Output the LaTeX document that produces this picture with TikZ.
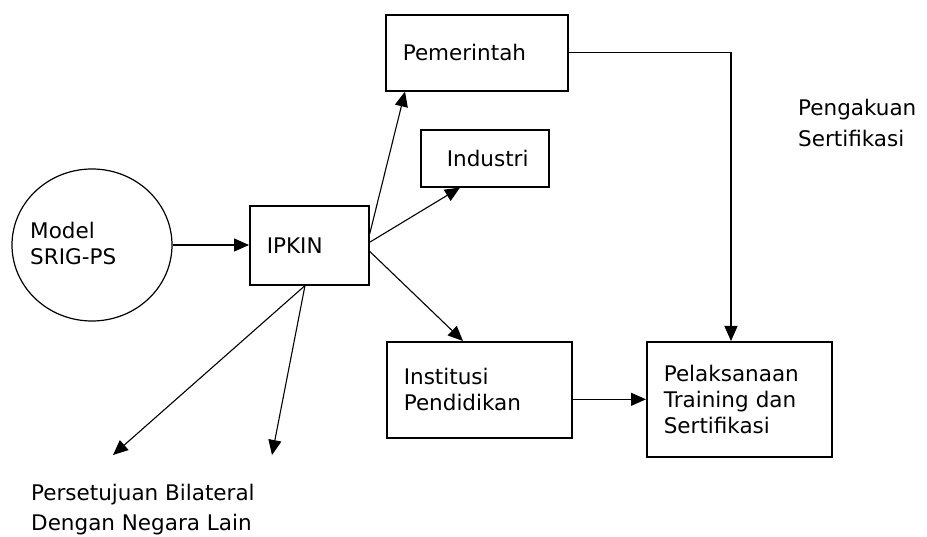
\documentclass[tikz,border=0pt]{standalone}
\usepackage{fontspec}
\setmainfont{DejaVu Sans}
\usepackage{tikz}
\usetikzlibrary{
  arrows.meta,
  shapes,
  shapes.geometric,
  positioning,
  calc
}
\tikzset{
  sgnode/.style={
    draw, line width=1.6pt, align=left, inner xsep=17pt, inner ysep=0pt,
    anchor=north west, font=\fontsize{21.5}{26}\selectfont
  },
  sgbox/.style={sgnode},
  sgoval/.style={draw, ellipse, line width=1.2pt, inner sep=0pt},
  sgtext/.style={font=\fontsize{21.5}{26}\selectfont, align=left, anchor=west, inner sep=0pt},
  sgflow/.style={-{Triangle[length=15pt, width=13pt]}, line width=1.1pt}
}
\begin{document}
\begin{tikzpicture}[x=1pt, y=1pt]
  \useasboundingbox (0,0) rectangle (927,-537);
  \node[sgoval, minimum width=160pt, minimum height=152pt] (model) at (92,-245) {};
  \node[sgtext] (modeltxt) at (30,-243) {Model\\SRIG-PS};
  \node[sgbox, text width=85pt, minimum height=79pt] (ipkin) at (249,-205) {IPKIN};
  \node[sgbox, text width=148pt, minimum height=76pt] (pemerintah) at (385,-14) {Pemerintah\\[14pt]};
  \node[sgbox, inner xsep=26pt, text width=76pt, minimum height=57pt] (industri) at (420,-129) {Industri};
  \node[sgbox, text width=151pt, minimum height=96pt] (institusi) at (386,-341) {Institusi\\Pendidikan};
  \node[sgbox, text width=151pt, minimum height=115pt] (pelaksanaan) at (646,-341) {Pelaksanaan\\Training dan\\Sertifikasi};
  \node[sgtext] (pengakuan) at (798,-123) {Pengakuan\\[5pt]Sertifikasi};
  \node[sgtext] (persetujuan) at (31,-510) {Persetujuan Bilateral\\[4pt]Dengan Negara Lain};
  \coordinate (bilA) at (113,-455);
  \coordinate (bilB) at (272,-455);
  \draw[sgflow] (model.east) -- (model.east -| ipkin.west);
  \draw[sgflow] ([yshift=11pt]ipkin.east) -- ([xshift=20pt]pemerintah.south west);
  \draw[sgflow] ([yshift=3pt]ipkin.east) -- ([xshift=40pt]industri.south west);
  \draw[sgflow] ([yshift=-6pt]ipkin.east) -- ([xshift=77pt]institusi.north west);
  \draw[sgflow] ([xshift=56pt]ipkin.south west) -- (bilA);
  \draw[sgflow] ([xshift=56pt]ipkin.south west) -- (bilB);
  \draw[sgflow] (pemerintah.east) -| ([xshift=85pt]pelaksanaan.north west);
  \draw[sgflow] (institusi.east |- pelaksanaan.west) -- (pelaksanaan.west);
\end{tikzpicture}
\end{document}
